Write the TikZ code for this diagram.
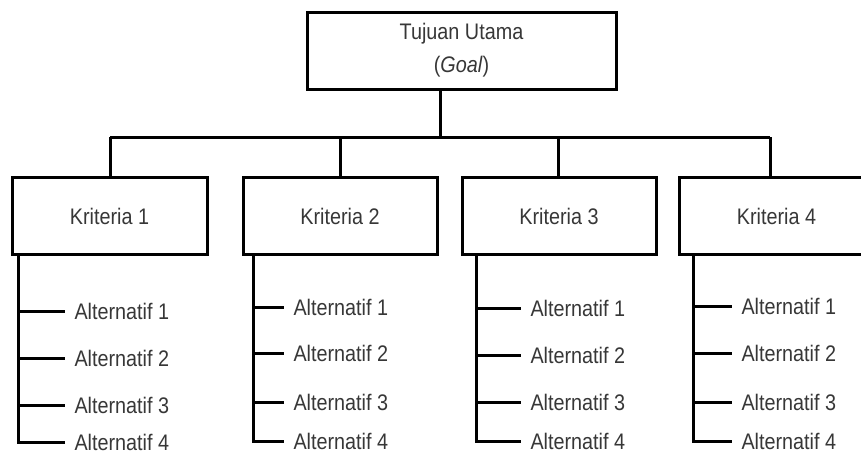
\documentclass[tikz,border=0pt]{standalone}
\usepackage{fontspec}
\setmainfont[FakeStretch=0.88]{Liberation Sans}
\definecolor{txt}{RGB}{55,55,55}
\begin{document}
\begin{tikzpicture}[x=1pt,y=-1pt,line width=3pt,
  box/.style={draw=black,text=txt,minimum height=77pt,inner sep=0pt,align=center,
    font=\fontsize{22.5}{33}\selectfont},
  alt/.style={anchor=west,text=txt,inner xsep=8pt,inner ysep=0pt,
    font=\fontsize{22.5}{27}\selectfont}]
\clip (0,0) rectangle (861,455);
% goal
\node[box,minimum width=309pt] (goal) at (461.5,50.5) {Tujuan Utama\\(\textit{Goal})};
% criteria
\node[box,minimum width=195pt] (k1) at (109.5,216) {Kriteria 1};
\node[box,minimum width=194pt] (k2) at (340,216) {Kriteria 2};
\node[box,minimum width=194pt] (k3) at (559,216) {Kriteria 3};
\node[box,minimum width=195pt] (k4) at (776.5,216) {Kriteria 4};
% bar
\coordinate (bar) at (440,137);
\coordinate (b1) at (110,137);
\coordinate (b2) at (340,137);
\coordinate (b3) at (558,137);
\coordinate (b4) at (770,137);
\draw (goal.south -| bar) -- (bar);
\draw (b1) -- (b4);
\foreach \i in {1,2,3,4}{\draw (b\i) -- (b\i |- k\i.north);}
% alternatives
\foreach \i/\lx/\tx/\ya/\yb/\yc/\yd in {1/18/65/311/358/405/442,2/253/284/307/353/402/441,3/476/521/308/355/402/441,4/693/732/306/353/402/441}{
  \node[alt] (a\i1) at (\tx,\ya) {Alternatif 1};
  \node[alt] (a\i2) at (\tx,\yb) {Alternatif 2};
  \node[alt] (a\i3) at (\tx,\yc) {Alternatif 3};
  \node[alt] (a\i4) at (\tx,\yd) {Alternatif 4};
  \coordinate (v\i) at (\lx,0);
  \draw (k\i.south -| v\i) |- (a\i4.west);
  \foreach \j in {1,2,3}{\draw (v\i |- a\i\j.west) -- (a\i\j.west);}
}
\end{tikzpicture}
\end{document}
